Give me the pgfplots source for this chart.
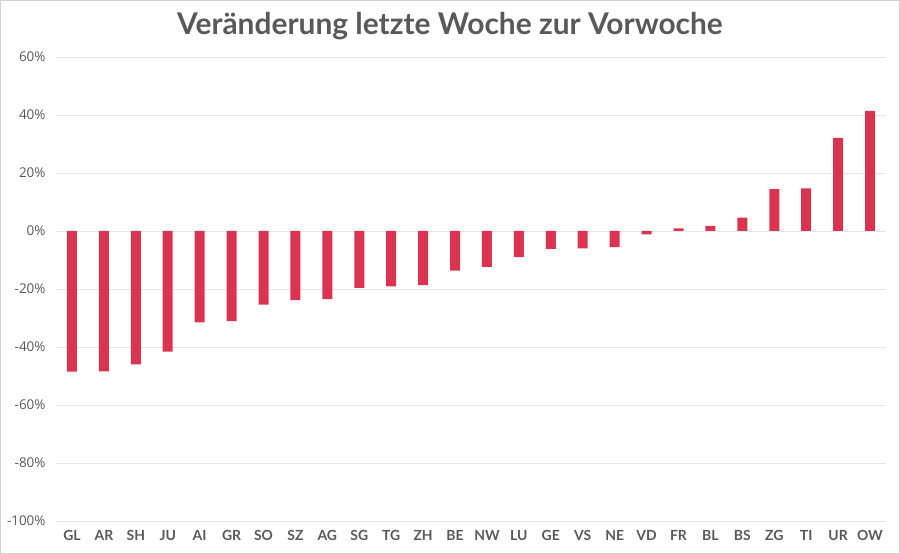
\documentclass[border=0pt]{standalone}
\usepackage{fontspec}
\setmainfont{Open Sans}
\newfontfamily\lato{Lato}
\usepackage{pgfplots}
\pgfplotsset{compat=1.18}
\definecolor{barred}{HTML}{DB3450}
\definecolor{txtgray}{HTML}{595959}
\definecolor{gridgray}{HTML}{E6E6E6}
\begin{document}
\begin{tikzpicture}
\begin{axis}[
  scale only axis,
  width=830bp, height=464bp,
  xmin=-0.5, xmax=25.5,
  ymin=-100, ymax=60,
  ytick={-100,-80,-60,-40,-20,0,20,40,60},
  yticklabels={-100\%,-80\%,-60\%,-40\%,-20\%,0\%,20\%,40\%,60\%},
  xtick={0,...,25},
  xticklabels={GL,AR,SH,JU,AI,GR,SO,SZ,AG,SG,TG,ZH,BE,NW,LU,GE,VS,NE,VD,FR,BL,BS,ZG,TI,UR,OW},
  ymajorgrids=true,
  grid style={gridgray, line width=0.8bp},
  axis line style={draw=none},
  major tick length=0pt,
  yticklabel style={font=\fontsize{13.5}{15}\selectfont, text=txtgray, xshift=-7bp},
  xticklabel style={font=\lato\bfseries\fontsize{14}{16}\selectfont, text=txtgray, yshift=-6bp},
  clip=false,
]
\addplot[ybar, bar width=10bp, fill=barred, draw=none] coordinates {
  (0,-48.5) (1,-48.4) (2,-46.0) (3,-41.6) (4,-31.5) (5,-31.1)
  (6,-25.4) (7,-23.8) (8,-23.5) (9,-19.6) (10,-19.1) (11,-18.7)
  (12,-13.7) (13,-12.4) (14,-9.0) (15,-6.2) (16,-6.0) (17,-5.6)
  (18,-1.2) (19,0.9) (20,1.8) (21,4.6) (22,14.4) (23,14.7)
  (24,32.1) (25,41.4)
};
\end{axis}
\node[font=\lato\bfseries\fontsize{30}{34}\selectfont, text=txtgray]
  at ([xshift=-21bp,yshift=31bp]current axis.north) {Veränderung letzte Woche zur Vorwoche};
\draw[black!18, line width=1bp]
  ([xshift=-55.5bp,yshift=-32.5bp]current axis.south west) rectangle
  ([xshift=13.5bp,yshift=56.5bp]current axis.north east);
\end{tikzpicture}
\end{document}
